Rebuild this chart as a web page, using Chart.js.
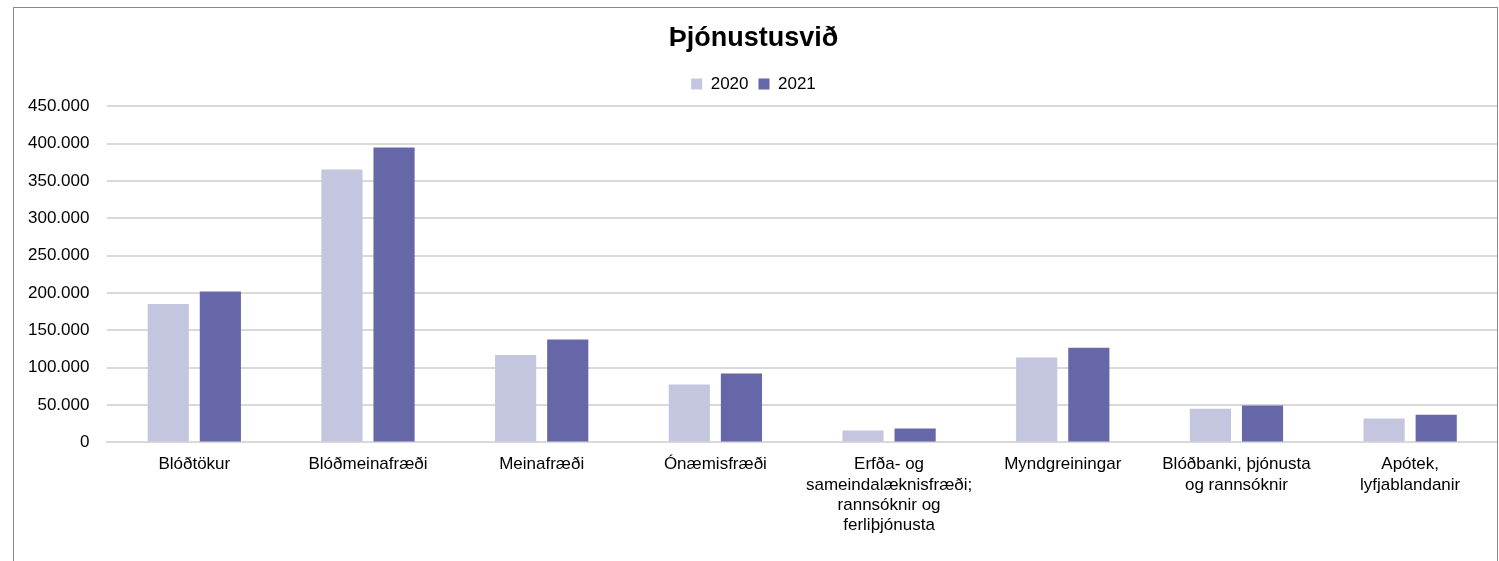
<!DOCTYPE html>
<html>
<head>
<meta charset="utf-8">
<script src="https://cdn.jsdelivr.net/npm/chart.js@4.4.0/dist/chart.umd.min.js"></script>
<style>
  html, body { margin: 0; padding: 0; background: #fff; overflow: hidden; }
  #frame {
    position: absolute; left: 13px; top: 7px;
    width: 1483px; height: 600px;
    border: 1px solid #8a8a8a;
  }
  #wrap { position: absolute; left: -4px; top: 0; width: 1487px; height: 554px; }
</style>
</head>
<body>
<div id="frame"><div id="wrap"><canvas id="svidChart"></canvas></div></div>
<script>
// Þjónustusvið - fjöldi rannsókna 2020 og 2021
const categories = [
    'Blóðtökur',
    'Blóðmeinafræði',
    'Meinafræði',
    'Ónæmisfræði',
    ['Erfða- og', 'sameindalæknisfræði;', 'rannsóknir og', 'ferliþjónusta'],
    'Myndgreiningar',
    ['Blóðbanki, þjónusta', 'og rannsóknir'],
    ['Apótek,', 'lyfjablandanir']
];
const values2020 = [185200, 365600, 116900, 77700, 16100, 113800, 45100, 32100];
const values2021 = [202200, 395100, 137900, 92400, 18700, 126800, 49500, 37100];
const yTicks = [0, 50000, 100000, 150000, 200000, 250000, 300000, 350000, 400000, 450000];

const fmt = v => String(v).replace(/\B(?=(\d{3})+(?!\d))/g, '.');

Chart.defaults.font.family = '"Liberation Sans", Arial, sans-serif';
Chart.defaults.color = '#000';

// a bit more room under the legend
const legendGap = {
    id: 'legendGap',
    beforeInit(chart) {
        const fit = chart.legend.fit;
        chart.legend.fit = function () {
            fit.bind(chart.legend)();
            this.height += 4;
        };
    }
};

const ctx = document.getElementById('svidChart').getContext('2d');
const svidChart = new Chart(ctx, {
    type: 'bar',
    data: {
        labels: categories,
        datasets: [{
            label: '2020',
            data: values2020,
            backgroundColor: '#C4C6E0',
            categoryPercentage: 0.6,
            barPercentage: 0.79
        }, {
            label: '2021',
            data: values2021,
            backgroundColor: '#6667A9',
            categoryPercentage: 0.6,
            barPercentage: 0.79
        }]
    },
    options: {
        responsive: true,
        maintainAspectRatio: false,
        animation: false,
        layout: { padding: { left: 0, right: 0, top: 0, bottom: 14 } },
        plugins: {
            title: {
                display: true,
                text: 'Þjónustusvið',
                font: { size: 27, weight: 'bold' },
                color: '#000',
                padding: { top: 14, bottom: 11 }
            },
            legend: {
                position: 'top',
                labels: {
                    boxWidth: 11,
                    boxHeight: 11,
                    padding: 10,
                    font: { size: 17 }
                }
            },
            tooltip: { enabled: false }
        },
        scales: {
            x: {
                grid: { display: false, drawTicks: false },
                border: { display: true, color: '#D9D9D9', width: 2 },
                ticks: { font: { size: 17 }, padding: 12, maxRotation: 0, autoSkip: false }
            },
            y: {
                min: 0,
                max: 450000,
                afterBuildTicks: axis => { axis.ticks = yTicks.map(v => ({ value: v })); },
                grid: { color: '#D9D9D9', lineWidth: 2, drawTicks: false },
                border: { display: false },
                ticks: { font: { size: 17 }, padding: 18, callback: v => fmt(v) }
            }
        }
    },
    plugins: [legendGap]
});
</script>
</body>
</html>
